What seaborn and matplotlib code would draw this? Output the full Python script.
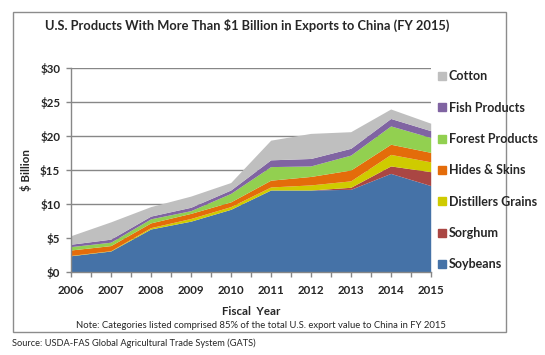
import numpy as np
import pandas as pd
import matplotlib
matplotlib.use('Agg')
import matplotlib.pyplot as plt
import seaborn as sns
from matplotlib.lines import Line2D
from matplotlib.patches import Rectangle

# datos (miles de millones USD)
years       = [2006, 2007, 2008, 2009, 2010, 2011, 2012, 2013, 2014, 2015]
soybeans    = [2.35, 3.05, 6.30, 7.45, 9.20, 12.05, 12.05, 12.15, 14.50, 12.70]
sorghum     = [0.00, 0.00, 0.00, 0.00, 0.00, 0.00, 0.00, 0.30, 1.10, 2.05]
distillers  = [0.05, 0.05, 0.20, 0.40, 0.40, 0.45, 0.75, 0.95, 1.70, 1.45]
hides       = [0.80, 0.75, 0.70, 0.75, 0.70, 1.00, 1.25, 1.60, 1.50, 1.40]
forest      = [0.50, 0.50, 0.60, 0.40, 1.25, 2.00, 1.55, 2.20, 2.70, 2.20]
fish        = [0.35, 0.45, 0.40, 0.50, 0.50, 1.00, 1.10, 1.00, 1.10, 1.00]
cotton      = [1.25, 2.55, 1.40, 1.65, 1.10, 2.90, 3.70, 2.45, 1.40, 1.10]

series_names = ['Soybeans', 'Sorghum', 'Distillers Grains', 'Hides & Skins',
                'Forest Products', 'Fish Products', 'Cotton']
y_ticks = [0, 5, 10, 15, 20, 25, 30]

df = pd.DataFrame({'Soybeans': soybeans, 'Sorghum': sorghum,
                   'Distillers Grains': distillers, 'Hides & Skins': hides,
                   'Forest Products': forest, 'Fish Products': fish,
                   'Cotton': cotton}, index=years)

colores = sns.color_palette(['#4572A7', '#AA4643', '#CFCB00', '#E46C0A',
                             '#92D050', '#8064A2', '#BFBFBF'])

sns.set_style('white')
plt.rcParams['font.family'] = ['Lato', 'DejaVu Sans']

fig = plt.figure(figsize=(5.45, 3.55), dpi=100)
ax = fig.add_axes([70.7/545, 1-271.7/355, 360/545, 203.4/355])

gris = '#878787'
for v in y_ticks[1:]:
    ax.axhline(v, color=gris, lw=1.0, zorder=0)

ax.stackplot(df.index, [df[c] for c in series_names], colors=colores,
             linewidth=0, zorder=2)

ax.set_xlim(2006, 2015)
ax.set_ylim(0, 30)
ax.set_yticks(y_ticks)
ax.set_yticklabels([f'${v}' for v in y_ticks], fontsize=8.3, fontweight='bold')
ax.set_xticks(years)
ax.set_xticklabels([str(y) for y in years], fontsize=8.3, fontweight='bold')
ax.set_xticks(np.arange(2006.5, 2015, 1.0), minor=True)
ax.tick_params(axis='both', which='both', direction='out', length=3.5,
               color=gris, width=1, bottom=True, left=True, pad=4)
ax.tick_params(axis='x', pad=6)
for s in ['top', 'right']:
    ax.spines[s].set_visible(False)
for s in ['left', 'bottom']:
    ax.spines[s].set_color(gris)
    ax.spines[s].set_linewidth(1)

ax.set_xlabel('Fiscal  Year', fontsize=8.3, fontweight='bold', labelpad=7)
ax.set_ylabel('$ Billion', fontsize=8.3, fontweight='bold', labelpad=6)

fig.text(247/545, 1-25/355, 'U.S. Products With More Than $1 Billion in Exports to China (FY 2015)',
         ha='center', va='center', fontsize=9.3, fontweight='bold')
fig.text(261/545, 1-325/355,
         'Note: Categories listed comprised 85% of the total U.S. export value to China in FY 2015',
         ha='center', va='center', fontsize=6.8)
fig.text(12/545, 1-343/355, 'Source: USDA-FAS Global Agricultural Trade System (GATS)',
         ha='left', va='center', fontsize=6.7)

# marco exterior
fig.patches.append(Rectangle((13/545, 1-332/355), (505.5-13)/545, (332-11.5)/355,
                             transform=fig.transFigure, fill=False,
                             edgecolor='#8C8C8C', lw=1.0))

handles = [Line2D([], [], marker='s', ls='', markersize=6, color=colores[i])
           for i in range(len(series_names))][::-1]
fig.legend(handles, series_names[::-1], loc='upper left',
           bbox_to_anchor=(432/545, 1-64/355), frameon=False,
           labelspacing=1.55, handlelength=0.6,
           handletextpad=0.25, borderpad=0, prop={'weight': 'bold', 'size': 9})

fig.savefig('out.png', dpi=100)
